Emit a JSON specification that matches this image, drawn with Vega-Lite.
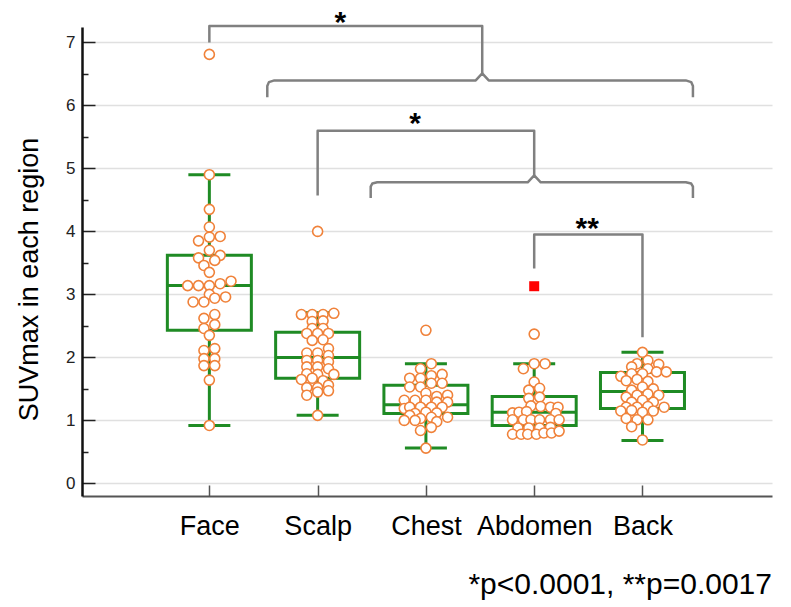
{
  "$schema": "https://vega.github.io/schema/vega-lite/v6.json",
  "width": 690,
  "height": 469,
  "autosize": {"type": "none"},
  "padding": {"left": 82, "top": 27, "right": 19, "bottom": 111},
  "background": "white",
  "config": {
    "view": {"stroke": null},
    "font": "Liberation Sans",
    "title": {"font": "Liberation Sans"}
  },
  "title": {
    "text": "*p<0.0001, **p=0.0017",
    "orient": "bottom",
    "anchor": "end",
    "fontSize": 30,
    "fontWeight": "normal",
    "color": "black",
    "offset": 31
  },
  "datasets": {
    "points": [
      {"region": "Face", "v": 6.81, "slot": 0},
      {"region": "Face", "v": 4.90, "slot": 0},
      {"region": "Face", "v": 4.35, "slot": 0},
      {"region": "Face", "v": 4.07, "slot": 0},
      {"region": "Face", "v": 3.91, "slot": 0},
      {"region": "Face", "v": 3.92, "slot": 1},
      {"region": "Face", "v": 3.85, "slot": -1},
      {"region": "Face", "v": 3.70, "slot": 0},
      {"region": "Face", "v": 3.62, "slot": 1},
      {"region": "Face", "v": 3.58, "slot": -1},
      {"region": "Face", "v": 3.54, "slot": 0.5},
      {"region": "Face", "v": 3.46, "slot": -0.5},
      {"region": "Face", "v": 3.35, "slot": 0},
      {"region": "Face", "v": 3.14, "slot": -2},
      {"region": "Face", "v": 3.14, "slot": -1},
      {"region": "Face", "v": 3.14, "slot": 0},
      {"region": "Face", "v": 3.17, "slot": 1},
      {"region": "Face", "v": 3.21, "slot": 2},
      {"region": "Face", "v": 3.00, "slot": 0},
      {"region": "Face", "v": 2.88, "slot": -1.5},
      {"region": "Face", "v": 2.88, "slot": -0.5},
      {"region": "Face", "v": 2.94, "slot": 0.5},
      {"region": "Face", "v": 2.96, "slot": 1.5},
      {"region": "Face", "v": 2.68, "slot": 0.5},
      {"region": "Face", "v": 2.62, "slot": -0.5},
      {"region": "Face", "v": 2.52, "slot": 0.5},
      {"region": "Face", "v": 2.46, "slot": -0.5},
      {"region": "Face", "v": 2.35, "slot": 0},
      {"region": "Face", "v": 2.11, "slot": -0.5},
      {"region": "Face", "v": 2.14, "slot": 0.5},
      {"region": "Face", "v": 1.98, "slot": -0.5},
      {"region": "Face", "v": 1.98, "slot": 0.5},
      {"region": "Face", "v": 1.87, "slot": -0.5},
      {"region": "Face", "v": 1.87, "slot": 0.5},
      {"region": "Face", "v": 1.64, "slot": 0},
      {"region": "Face", "v": 0.92, "slot": 0},
      {"region": "Scalp", "v": 4.00, "slot": 0},
      {"region": "Scalp", "v": 2.70, "slot": 1.5},
      {"region": "Scalp", "v": 2.68, "slot": -1.5},
      {"region": "Scalp", "v": 2.68, "slot": -0.5},
      {"region": "Scalp", "v": 2.68, "slot": 0.5},
      {"region": "Scalp", "v": 2.57, "slot": -0.5},
      {"region": "Scalp", "v": 2.58, "slot": 0.5},
      {"region": "Scalp", "v": 2.46, "slot": -0.5},
      {"region": "Scalp", "v": 2.46, "slot": 0.5},
      {"region": "Scalp", "v": 2.38, "slot": -1},
      {"region": "Scalp", "v": 2.38, "slot": 0},
      {"region": "Scalp", "v": 2.38, "slot": 1},
      {"region": "Scalp", "v": 2.27, "slot": -0.5},
      {"region": "Scalp", "v": 2.28, "slot": 0.5},
      {"region": "Scalp", "v": 2.14, "slot": 1},
      {"region": "Scalp", "v": 2.07, "slot": -1},
      {"region": "Scalp", "v": 2.07, "slot": 0},
      {"region": "Scalp", "v": 2.03, "slot": 1},
      {"region": "Scalp", "v": 1.95, "slot": -1},
      {"region": "Scalp", "v": 1.95, "slot": 0},
      {"region": "Scalp", "v": 1.93, "slot": 1},
      {"region": "Scalp", "v": 1.85, "slot": -1},
      {"region": "Scalp", "v": 1.85, "slot": 0},
      {"region": "Scalp", "v": 1.82, "slot": 1},
      {"region": "Scalp", "v": 1.74, "slot": -1},
      {"region": "Scalp", "v": 1.73, "slot": 0},
      {"region": "Scalp", "v": 1.73, "slot": 1.5},
      {"region": "Scalp", "v": 1.65, "slot": -1.5},
      {"region": "Scalp", "v": 1.67, "slot": -0.5},
      {"region": "Scalp", "v": 1.63, "slot": 0.5},
      {"region": "Scalp", "v": 1.52, "slot": -1},
      {"region": "Scalp", "v": 1.52, "slot": 0},
      {"region": "Scalp", "v": 1.56, "slot": 1},
      {"region": "Scalp", "v": 1.40, "slot": -1},
      {"region": "Scalp", "v": 1.47, "slot": 1},
      {"region": "Scalp", "v": 1.45, "slot": 0},
      {"region": "Scalp", "v": 1.08, "slot": 0},
      {"region": "Chest", "v": 2.43, "slot": 0},
      {"region": "Chest", "v": 1.90, "slot": 0.5},
      {"region": "Chest", "v": 1.82, "slot": -0.5},
      {"region": "Chest", "v": 1.71, "slot": 0.5},
      {"region": "Chest", "v": 1.73, "slot": 1.5},
      {"region": "Chest", "v": 1.67, "slot": -1.5},
      {"region": "Chest", "v": 1.67, "slot": -0.5},
      {"region": "Chest", "v": 1.59, "slot": 1.5},
      {"region": "Chest", "v": 1.59, "slot": 0.5},
      {"region": "Chest", "v": 1.53, "slot": -1.5},
      {"region": "Chest", "v": 1.53, "slot": -0.5},
      {"region": "Chest", "v": 1.43, "slot": 0},
      {"region": "Chest", "v": 1.38, "slot": 1},
      {"region": "Chest", "v": 1.40, "slot": 2},
      {"region": "Chest", "v": 1.32, "slot": -2},
      {"region": "Chest", "v": 1.32, "slot": -1},
      {"region": "Chest", "v": 1.32, "slot": 0},
      {"region": "Chest", "v": 1.29, "slot": 1},
      {"region": "Chest", "v": 1.29, "slot": 2},
      {"region": "Chest", "v": 1.19, "slot": -2},
      {"region": "Chest", "v": 1.21, "slot": -1.5},
      {"region": "Chest", "v": 1.21, "slot": -0.5},
      {"region": "Chest", "v": 1.21, "slot": 0.5},
      {"region": "Chest", "v": 1.21, "slot": 1.5},
      {"region": "Chest", "v": 1.11, "slot": -1},
      {"region": "Chest", "v": 1.13, "slot": 0},
      {"region": "Chest", "v": 1.12, "slot": 1},
      {"region": "Chest", "v": 1.08, "slot": -1.5},
      {"region": "Chest", "v": 1.00, "slot": -2},
      {"region": "Chest", "v": 1.03, "slot": -0.5},
      {"region": "Chest", "v": 1.05, "slot": 0.5},
      {"region": "Chest", "v": 1.05, "slot": 2},
      {"region": "Chest", "v": 1.00, "slot": -1},
      {"region": "Chest", "v": 0.98, "slot": 1},
      {"region": "Chest", "v": 0.84, "slot": -0.5},
      {"region": "Chest", "v": 0.89, "slot": 0.5},
      {"region": "Chest", "v": 0.56, "slot": 0},
      {"region": "Abdomen", "v": 2.37, "slot": 0},
      {"region": "Abdomen", "v": 1.90, "slot": 0},
      {"region": "Abdomen", "v": 1.90, "slot": 1},
      {"region": "Abdomen", "v": 1.82, "slot": -1},
      {"region": "Abdomen", "v": 1.61, "slot": 0},
      {"region": "Abdomen", "v": 1.48, "slot": -0.5},
      {"region": "Abdomen", "v": 1.51, "slot": 0.5},
      {"region": "Abdomen", "v": 1.35, "slot": -0.5},
      {"region": "Abdomen", "v": 1.37, "slot": 0.5},
      {"region": "Abdomen", "v": 1.23, "slot": -0.3},
      {"region": "Abdomen", "v": 1.22, "slot": 0.6},
      {"region": "Abdomen", "v": 1.21, "slot": 1.5},
      {"region": "Abdomen", "v": 1.21, "slot": 2.2},
      {"region": "Abdomen", "v": 1.12, "slot": -2},
      {"region": "Abdomen", "v": 1.13, "slot": -1.4},
      {"region": "Abdomen", "v": 1.14, "slot": -0.7},
      {"region": "Abdomen", "v": 1.11, "slot": 2},
      {"region": "Abdomen", "v": 1.01, "slot": -2},
      {"region": "Abdomen", "v": 1.01, "slot": -1},
      {"region": "Abdomen", "v": 1.01, "slot": -0.3},
      {"region": "Abdomen", "v": 1.01, "slot": 0.5},
      {"region": "Abdomen", "v": 1.01, "slot": 1.5},
      {"region": "Abdomen", "v": 1.01, "slot": 2.3},
      {"region": "Abdomen", "v": 0.88, "slot": -1.5},
      {"region": "Abdomen", "v": 0.88, "slot": -0.5},
      {"region": "Abdomen", "v": 0.88, "slot": 0.5},
      {"region": "Abdomen", "v": 0.89, "slot": 1.5},
      {"region": "Abdomen", "v": 0.78, "slot": -2},
      {"region": "Abdomen", "v": 0.78, "slot": -1.2},
      {"region": "Abdomen", "v": 0.78, "slot": -0.6},
      {"region": "Abdomen", "v": 0.78, "slot": 0.2},
      {"region": "Abdomen", "v": 0.80, "slot": 0.9},
      {"region": "Abdomen", "v": 0.80, "slot": 1.6},
      {"region": "Abdomen", "v": 0.83, "slot": 2.3},
      {"region": "Back", "v": 2.08, "slot": 0},
      {"region": "Back", "v": 1.95, "slot": 0.5},
      {"region": "Back", "v": 1.90, "slot": -0.5},
      {"region": "Back", "v": 1.89, "slot": 1.5},
      {"region": "Back", "v": 1.85, "slot": -1},
      {"region": "Back", "v": 1.82, "slot": 0.5},
      {"region": "Back", "v": 1.70, "slot": -2},
      {"region": "Back", "v": 1.74, "slot": -1},
      {"region": "Back", "v": 1.74, "slot": 0},
      {"region": "Back", "v": 1.77, "slot": 1.3},
      {"region": "Back", "v": 1.77, "slot": 2.2},
      {"region": "Back", "v": 1.63, "slot": -1.5},
      {"region": "Back", "v": 1.65, "slot": -0.5},
      {"region": "Back", "v": 1.62, "slot": 0.5},
      {"region": "Back", "v": 1.48, "slot": -1},
      {"region": "Back", "v": 1.53, "slot": 0},
      {"region": "Back", "v": 1.50, "slot": 1},
      {"region": "Back", "v": 1.37, "slot": -1.5},
      {"region": "Back", "v": 1.40, "slot": -0.5},
      {"region": "Back", "v": 1.42, "slot": 0.5},
      {"region": "Back", "v": 1.40, "slot": 1.5},
      {"region": "Back", "v": 1.29, "slot": -1},
      {"region": "Back", "v": 1.32, "slot": 0},
      {"region": "Back", "v": 1.29, "slot": 1},
      {"region": "Back", "v": 1.21, "slot": -1.5},
      {"region": "Back", "v": 1.21, "slot": -0.5},
      {"region": "Back", "v": 1.22, "slot": 0.5},
      {"region": "Back", "v": 1.21, "slot": 2},
      {"region": "Back", "v": 1.15, "slot": -2},
      {"region": "Back", "v": 1.16, "slot": -1},
      {"region": "Back", "v": 1.13, "slot": 0},
      {"region": "Back", "v": 1.15, "slot": 1},
      {"region": "Back", "v": 1.01, "slot": -0.5},
      {"region": "Back", "v": 1.01, "slot": 0.5},
      {"region": "Back", "v": 1.03, "slot": -1.5},
      {"region": "Back", "v": 0.90, "slot": -1},
      {"region": "Back", "v": 0.69, "slot": 0}
    ],
    "boxes": [
      {"region": "Face", "lo": 0.92, "q1": 2.43, "med": 3.14, "q3": 3.62, "hi": 4.90},
      {"region": "Scalp", "lo": 1.08, "q1": 1.67, "med": 2.00, "q3": 2.40, "hi": 2.71},
      {"region": "Chest", "lo": 0.56, "q1": 1.11, "med": 1.25, "q3": 1.56, "hi": 1.90},
      {"region": "Abdomen", "lo": 0.78, "q1": 0.92, "med": 1.13, "q3": 1.38, "hi": 1.90},
      {"region": "Back", "lo": 0.68, "q1": 1.19, "med": 1.46, "q3": 1.76, "hi": 2.08}
    ],
    "far": [
      {"region": "Abdomen", "v": 3.13}
    ],
    "brackets": [
      {"b": "A", "o": 1, "gx": 1.0, "v": 7.0},
      {"b": "A", "o": 2, "gx": 1.0, "v": 7.26},
      {"b": "A", "o": 3, "gx": 3.52, "v": 7.26},
      {"b": "A", "o": 4, "gx": 3.52, "v": 6.51},
      {"b": "B", "o": 1, "gx": 1.535, "v": 6.13},
      {"b": "B", "o": 2, "gx": 1.535, "v": 6.31},
      {"b": "B", "o": 3, "gx": 1.55, "v": 6.37},
      {"b": "B", "o": 4, "gx": 1.6, "v": 6.397},
      {"b": "B", "o": 5, "gx": 3.46, "v": 6.397},
      {"b": "B", "o": 6, "gx": 3.52, "v": 6.51},
      {"b": "B", "o": 7, "gx": 3.58, "v": 6.397},
      {"b": "B", "o": 8, "gx": 5.40, "v": 6.397},
      {"b": "B", "o": 9, "gx": 5.45, "v": 6.37},
      {"b": "B", "o": 10, "gx": 5.466, "v": 6.31},
      {"b": "B", "o": 11, "gx": 5.466, "v": 6.13},
      {"b": "C", "o": 1, "gx": 2.0, "v": 4.57},
      {"b": "C", "o": 2, "gx": 2.0, "v": 5.6},
      {"b": "C", "o": 3, "gx": 4.0, "v": 5.6},
      {"b": "C", "o": 4, "gx": 4.0, "v": 4.89},
      {"b": "D", "o": 1, "gx": 2.49, "v": 4.53},
      {"b": "D", "o": 2, "gx": 2.49, "v": 4.71},
      {"b": "D", "o": 3, "gx": 2.505, "v": 4.76},
      {"b": "D", "o": 4, "gx": 2.55, "v": 4.78},
      {"b": "D", "o": 5, "gx": 3.94, "v": 4.78},
      {"b": "D", "o": 6, "gx": 4.0, "v": 4.89},
      {"b": "D", "o": 7, "gx": 4.06, "v": 4.78},
      {"b": "D", "o": 8, "gx": 5.40, "v": 4.78},
      {"b": "D", "o": 9, "gx": 5.45, "v": 4.76},
      {"b": "D", "o": 10, "gx": 5.466, "v": 4.71},
      {"b": "D", "o": 11, "gx": 5.466, "v": 4.53},
      {"b": "E", "o": 1, "gx": 4.0, "v": 3.41},
      {"b": "E", "o": 2, "gx": 4.0, "v": 3.95},
      {"b": "E", "o": 3, "gx": 5.0, "v": 3.95},
      {"b": "E", "o": 4, "gx": 5.0, "v": 2.32}
    ],
    "stars": [
      {"gx": 2.21, "v": 7.17, "t": "*"},
      {"gx": 2.90, "v": 5.56, "t": "*"},
      {"gx": 4.49, "v": 3.90, "t": "**"}
    ]
  },
  "encoding": {
    "x": {
      "field": "gx", "type": "quantitative",
      "scale": {"domain": [-0.13, 6.15], "nice": false, "zero": false},
      "axis": {
        "values": [1, 2, 3, 4, 5],
        "labelExpr": "['Face','Scalp','Chest','Abdomen','Back'][datum.value - 1]",
        "title": null,
        "grid": false,
        "tickSize": -11,
        "tickWidth": 1.5,
        "tickColor": "#555555",
        "domainColor": "#555555",
        "domainWidth": 2,
        "labelFontSize": 27,
        "labelColor": "black",
        "labelPadding": 28,
        "labelFont": "Liberation Sans",
        "labelBaseline": "top"
      }
    },
    "y": {
      "field": "v", "type": "quantitative",
      "scale": {"domain": [-0.2, 7.245], "nice": false, "zero": false},
      "axis": {
        "values": [0, 0.5, 1, 1.5, 2, 2.5, 3, 3.5, 4, 4.5, 5, 5.5, 6, 6.5, 7],
        "labelExpr": "datum.value % 1 === 0 ? format(datum.value, 'd') : ''",
        "title": "SUVmax in each region",
        "titleFontSize": 27,
        "titleFontWeight": "normal",
        "titleColor": "black",
        "titleFont": "Liberation Sans",
        "titlePadding": 22,
        "titleY": 252,
        "titleAlign": "center",
        "grid": true,
        "gridColor": "#e0e0e0",
        "gridWidth": 1.5,
        "gridOpacity": {"condition": {"test": "datum.value % 1 === 0", "value": 1}, "value": 0},
        "tickSize": {"condition": {"test": "datum.value % 1 === 0", "value": -13}, "value": -6},
        "tickWidth": 1.5,
        "tickColor": "#222222",
        "domainColor": "#111111",
        "domainWidth": 2.5,
        "labelFontSize": 17,
        "labelColor": "#222222",
        "labelPadding": 20,
        "labelFont": "Liberation Sans"
      }
    }
  },
  "layer": [
    {
      "data": {"name": "boxes"},
      "transform": [
        {"calculate": "indexof(['Face','Scalp','Chest','Abdomen','Back'], datum.region) + 1", "as": "gx"},
        {"calculate": "datum.lo", "as": "v"}
      ],
      "mark": {"type": "rule", "color": "#1f8b24", "strokeWidth": 3},
      "encoding": {"y2": {"field": "q1"}}
    },
    {
      "data": {"name": "boxes"},
      "transform": [
        {"calculate": "indexof(['Face','Scalp','Chest','Abdomen','Back'], datum.region) + 1", "as": "gx"},
        {"calculate": "datum.q3", "as": "v"}
      ],
      "mark": {"type": "rule", "color": "#1f8b24", "strokeWidth": 3},
      "encoding": {"y2": {"field": "hi"}}
    },
    {
      "data": {"name": "boxes"},
      "transform": [
        {"calculate": "indexof(['Face','Scalp','Chest','Abdomen','Back'], datum.region) + 1", "as": "gx"},
        {"calculate": "datum.q1", "as": "v"}
      ],
      "mark": {"type": "bar", "width": 84, "fill": "white", "fillOpacity": 0, "stroke": "#1f8b24", "strokeWidth": 3},
      "encoding": {"y2": {"field": "q3"}}
    },
    {
      "data": {"name": "boxes"},
      "transform": [
        {"calculate": "indexof(['Face','Scalp','Chest','Abdomen','Back'], datum.region) + 1", "as": "gx"},
        {"calculate": "datum.med", "as": "v"}
      ],
      "mark": {"type": "tick", "orient": "horizontal", "size": 84, "thickness": 3, "color": "#1f8b24", "opacity": 1}
    },
    {
      "data": {"name": "boxes"},
      "transform": [
        {"calculate": "indexof(['Face','Scalp','Chest','Abdomen','Back'], datum.region) + 1", "as": "gx"},
        {"calculate": "datum.lo", "as": "v"}
      ],
      "mark": {"type": "tick", "orient": "horizontal", "size": 42, "thickness": 3, "color": "#1f8b24", "opacity": 1}
    },
    {
      "data": {"name": "boxes"},
      "transform": [
        {"calculate": "indexof(['Face','Scalp','Chest','Abdomen','Back'], datum.region) + 1", "as": "gx"},
        {"calculate": "datum.hi", "as": "v"}
      ],
      "mark": {"type": "tick", "orient": "horizontal", "size": 42, "thickness": 3, "color": "#1f8b24", "opacity": 1}
    },
    {
      "data": {"name": "points"},
      "transform": [{"calculate": "indexof(['Face','Scalp','Chest','Abdomen','Back'], datum.region) + 1 + datum.slot * 0.1", "as": "gx"}],
      "mark": {"type": "circle", "size": 100, "fill": "white", "fillOpacity": 1, "stroke": "#f0823a", "strokeWidth": 1.6}
    },
    {
      "data": {"name": "far"},
      "transform": [{"calculate": "indexof(['Face','Scalp','Chest','Abdomen','Back'], datum.region) + 1", "as": "gx"}],
      "mark": {"type": "square", "size": 100, "color": "#ff0000", "filled": true, "opacity": 1}
    },
    {
      "data": {"name": "brackets"},
      "mark": {"type": "line", "color": "#808080", "strokeWidth": 2.5, "strokeJoin": "round"},
      "encoding": {
        "detail": {"field": "b"},
        "order": {"field": "o"}
      }
    },
    {
      "data": {"name": "stars"},
      "mark": {"type": "text", "fontSize": 30, "fontWeight": "bold", "font": "Liberation Sans", "color": "black", "baseline": "alphabetic", "align": "center"},
      "encoding": {
        "text": {"field": "t"}
      }
    }
  ]
}
